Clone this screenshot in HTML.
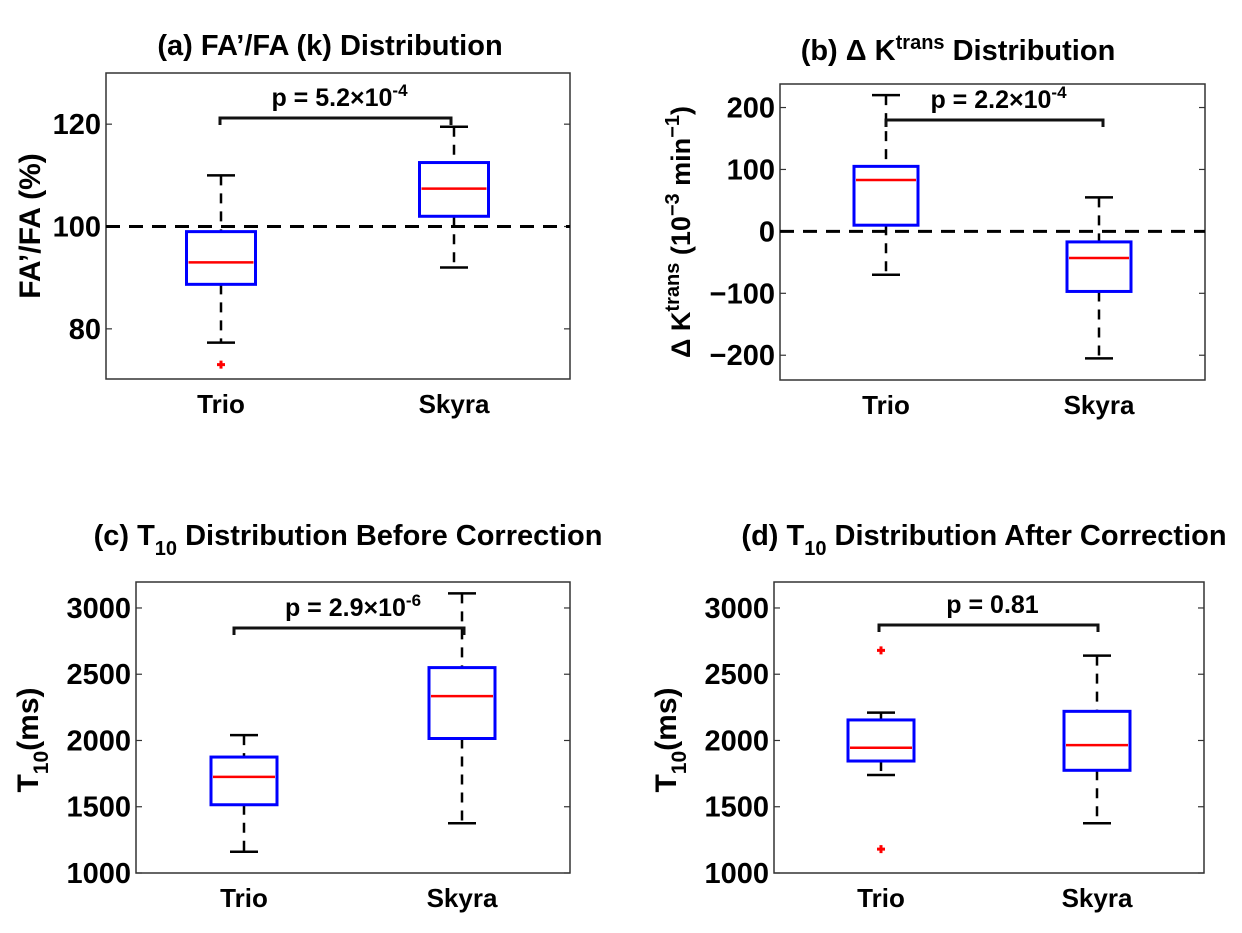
<!DOCTYPE html>
<html><head><meta charset="utf-8">
<style>
html,body{margin:0;padding:0;background:#fff;}
svg{display:block;font-family:"Liberation Sans",Arial,sans-serif;font-weight:bold;}
</style></head>
<body>
<svg id="fig" width="1242" height="933" viewBox="0 0 1242 933">
  <text x="330" y="55" font-size="29" text-anchor="middle">(a) FA’/FA (k) Distribution</text>
  <text x="958" y="60" font-size="29" text-anchor="middle">(b) Δ K<tspan font-size="20" dy="-11">trans</tspan><tspan dy="11"> Distribution</tspan></text>
  <text x="348" y="545" font-size="29" text-anchor="middle">(c) T<tspan font-size="20" dy="10">10</tspan><tspan dy="-10"> Distribution Before Correction</tspan></text>
  <text x="984" y="545" font-size="29" text-anchor="middle">(d) T<tspan font-size="20" dy="10">10</tspan><tspan dy="-10"> Distribution After Correction</tspan></text>

  <text transform="translate(40,226) rotate(-90)" font-size="30" text-anchor="middle">FA’/FA (%)</text>
  <text transform="translate(690,232) rotate(-90)" font-size="27" text-anchor="middle">Δ K<tspan font-size="20" dy="-11">trans</tspan><tspan dy="11"> (10</tspan><tspan font-size="20" dy="-11">−3</tspan><tspan dy="11"> min</tspan><tspan font-size="20" dy="-11">−1</tspan><tspan dy="11">)</tspan></text>
  <text transform="translate(38,740) rotate(-90)" font-size="30" text-anchor="middle">T<tspan font-size="21" dy="10">10</tspan><tspan dy="-10">(ms)</tspan></text>
  <text transform="translate(676,740) rotate(-90)" font-size="30" text-anchor="middle">T<tspan font-size="21" dy="10">10</tspan><tspan dy="-10">(ms)</tspan></text>
</svg>
<script>
const categories = ["Trio", "Skyra"];
// panel a
const aTicks = [80, 100, 120];
const aUpper = [110, 119.5], aQ3 = [99, 112.5], aMed = [93, 107.4], aQ1 = [88.7, 102], aLower = [77.3, 92];
const aOutliers = [[73], []];
const aRef = 100;
// panel b
const bTicks = [-200, -100, 0, 100, 200];
const bUpper = [220, 55], bQ3 = [105, -17], bMed = [83, -43], bQ1 = [10, -97], bLower = [-70, -205];
const bOutliers = [[], []];
const bRef = 0;
// panel c
const cTicks = [1000, 1500, 2000, 2500, 3000];
const cUpper = [2040, 3110], cQ3 = [1875, 2550], cMed = [1725, 2335], cQ1 = [1515, 2015], cLower = [1160, 1375];
const cOutliers = [[], []];
// panel d
const dTicks = [1000, 1500, 2000, 2500, 3000];
const dUpper = [2210, 2640], dQ3 = [2155, 2220], dMed = [1945, 1965], dQ1 = [1845, 1775], dLower = [1740, 1375];
const dOutliers = [[2680, 1180], []];
const pLabels = ["5.2×10", "2.2×10", "2.9×10", "0.81"];
const pExps = ["-4", "-4", "-6", ""];

const NS = "http://www.w3.org/2000/svg";
const svg = document.getElementById("fig");
function mk(tag, attrs, parent) {
  const e = document.createElementNS(NS, tag);
  for (const k in attrs) e.setAttribute(k, attrs[k]);
  (parent || svg).appendChild(e);
  return e;
}

function panel(id, L, R, T, B, yMin, yMax, ticks, catX, up, q3, med, q1, lo, outs, ref, bracket, pi, boxW) {
  const g = mk("g", {});
  
  
  const y = v => B - (v - yMin) / (yMax - yMin) * (B - T);
  const fr = mk("rect", {x: L, y: T, width: R - L, height: B - T, fill: "none", stroke: "#333", "stroke-width": 1.5}, g);
  
  
  ticks.forEach(t => {
    const yy = y(t);
    mk("line", {x1: L, x2: L + 6, y1: yy, y2: yy, stroke: "#333", "stroke-width": 1.2}, g);
    mk("line", {x1: R - 6, x2: R, y1: yy, y2: yy, stroke: "#333", "stroke-width": 1.2}, g);
    const tl = mk("text", {x: L - 5, y: yy + 10, "font-size": 29, "text-anchor": "end"}, g);
    tl.textContent = t < 0 ? "−" + Math.abs(t) : t;
    
    
  });
  if (ref !== null) {
    const rl = mk("line", {x1: L, x2: R, y1: y(ref), y2: y(ref), stroke: "#000", "stroke-width": 3, "stroke-dasharray": "14 9"}, g);
    
    
  }
  categories.forEach((c, i) => {
    const x = catX[i];
    const xl = mk("text", {x: x, y: B + 34, "font-size": 26, "text-anchor": "middle"}, g);
    xl.textContent = c;
    
    
    const wk = mk("g", {}, g);
    
    
    mk("line", {x1: x, x2: x, y1: y(up[i]), y2: y(q3[i]), stroke: "#000", "stroke-width": 2.5, "stroke-dasharray": "10 8"}, wk);
    mk("line", {x1: x, x2: x, y1: y(q1[i]), y2: y(lo[i]), stroke: "#000", "stroke-width": 2.5, "stroke-dasharray": "10 8"}, wk);
    mk("line", {x1: x - 14, x2: x + 14, y1: y(up[i]), y2: y(up[i]), stroke: "#000", "stroke-width": 2.5}, wk);
    mk("line", {x1: x - 14, x2: x + 14, y1: y(lo[i]), y2: y(lo[i]), stroke: "#000", "stroke-width": 2.5}, wk);
    const bx = mk("rect", {x: x - boxW / 2, y: y(q3[i]), width: boxW, height: y(q1[i]) - y(q3[i]), fill: "none", stroke: "#0000ff", "stroke-width": 3}, g);
    
    
    const md = mk("line", {x1: x - boxW / 2 + 2, x2: x + boxW / 2 - 2, y1: y(med[i]), y2: y(med[i]), stroke: "#ff0000", "stroke-width": 2.5}, g);
    
    
    outs[i].forEach(o => {
      const ot = mk("path", {d: `M${x - 4},${y(o)} H${x + 4} M${x},${y(o) - 4} V${y(o) + 4}`, stroke: "#ff0000", "stroke-width": 3}, g);
      
      
    });
  });
  const [bx1, bx2, by] = bracket;
  const br = mk("path", {d: `M${bx1},${by + 7} L${bx1},${by} L${bx2},${by} L${bx2},${by + 7}`, fill: "none", stroke: "#111", "stroke-width": 3}, g);
  
  
  const pt = mk("text", {x: (bx1 + bx2) / 2 + 4, y: by - 12, "font-size": 25, "text-anchor": "middle"}, g);
  pt.textContent = "p = " + pLabels[pi];
  if (pExps[pi]) {
    const ts = mk("tspan", {"font-size": 17, dy: -10}, pt);
    ts.textContent = pExps[pi];
  }
  
  
}

panel("a", 106, 570, 73, 379, 70.2, 130, aTicks, [221, 454], aUpper, aQ3, aMed, aQ1, aLower, aOutliers, aRef, [220, 451, 118], 0, 69);
panel("b", 780, 1205, 84, 380, -240, 238, bTicks, [886, 1099], bUpper, bQ3, bMed, bQ1, bLower, bOutliers, bRef, [886, 1103, 120], 1, 64);
panel("c", 136, 570, 582, 873, 1000, 3196, cTicks, [244, 462], cUpper, cQ3, cMed, cQ1, cLower, cOutliers, null, [234, 464, 628], 2, 66);
panel("d", 774, 1204, 582, 873, 1000, 3196, dTicks, [881, 1097], dUpper, dQ3, dMed, dQ1, dLower, dOutliers, null, [879, 1098, 625], 3, 66);
</script>
</body></html>
